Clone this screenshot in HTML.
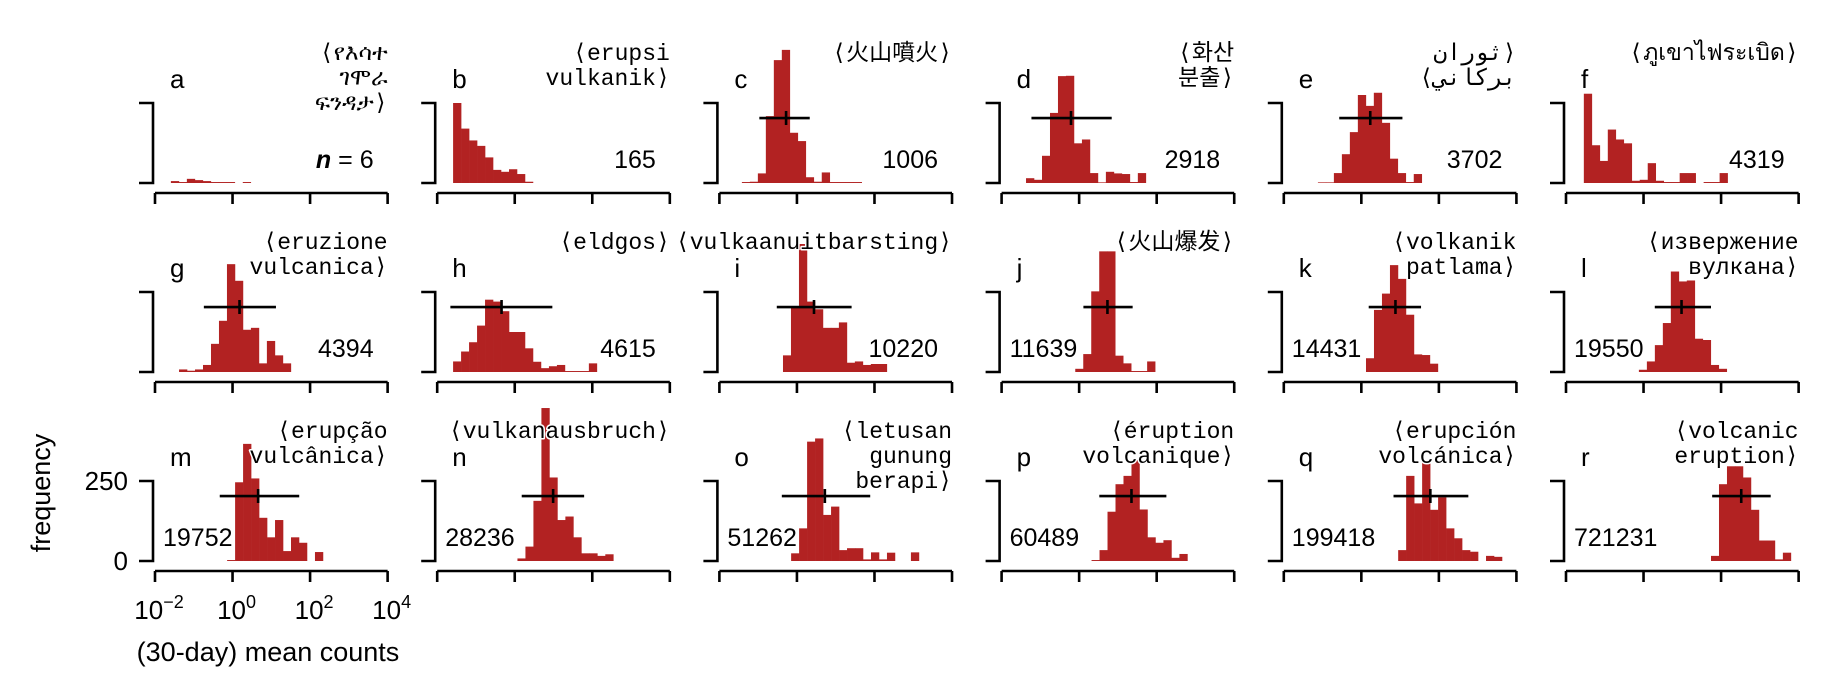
<!DOCTYPE html>
<html><head><meta charset="utf-8"><style>
html,body{margin:0;padding:0;background:#fff}
svg{display:block}
.mono{font-family:"Liberation Mono","DejaVu Sans Mono","Noto Sans CJK JP",monospace;font-size:23px;fill:#000}
.sans{font-family:"Liberation Sans","DejaVu Sans",sans-serif;fill:#000}
.halo{paint-order:stroke;stroke:#fff;stroke-width:3px;stroke-linejoin:round}
</style></head><body>
<svg id="chart" width="1829" height="698" viewBox="0 0 1829 698" xmlns="http://www.w3.org/2000/svg"></svg>
<script>
const letters=["a","b","c","d","e","f","g","h","i","j","k","l","m","n","o","p","q","r"];
const titles=[["⟨የእሳተ","ገሞራ","ፍንዳታ⟩"],["⟨erupsi","vulkanik⟩"],["⟨火山噴火⟩"],["⟨화산","분출⟩"],["⟨ثوران","بركاني⟩"],["⟨ภูเขาไฟระเบิด⟩"],
["⟨eruzione","vulcanica⟩"],["⟨eldgos⟩"],["⟨vulkaanuitbarsting⟩"],["⟨火山爆发⟩"],["⟨volkanik","patlama⟩"],["⟨извержение","вулкана⟩"],
["⟨erupção","vulcânica⟩"],["⟨vulkanausbruch⟩"],["⟨letusan","gunung","berapi⟩"],["⟨éruption","volcanique⟩"],["⟨erupción","volcánica⟩"],["⟨volcanic","eruption⟩"]];
const sampleSizes=["6","165","1006","2918","3702","4319","4394","4615","10220","11639","14431","19550","19752","28236","51262","60489","199418","721231"];
const binWidth=0.206;
const binStart=[-1.59,-1.59,-1.42,-1.37,-1.12,-1.54,-1.38,-1.59,-0.36,-0.10,0.12,-0.12,-0.14,0.07,-0.15,0.32,0.95,1.74];
const binCounts=[
[6,3,13,9,6,3,3,3,0,3],
[250,170,133,116,80,41,35,43,28,4],
[3,4,30,209,384,416,157,131,18,4,33,3,3,3,3],
[15,10,85,219,334,335,124,136,31,2,35,30,28,3,31],
[2,2,31,90,159,275,241,282,188,76,31,3,28],
[279,118,69,167,136,124,7,10,62,7,3,3,31,31,0,3,3,31],
[8,4,8,22,88,160,337,285,132,138,27,97,52,27],
[33,64,93,145,226,220,190,125,125,74,32,12,18,22,3,3,3,27],
[52,200,400,220,196,138,138,155,29,33,22,25,25],
[10,56,252,377,377,51,27,3,3,33],
[43,194,245,334,291,179,55,53,26],
[7,33,84,153,314,283,286,104,100,22,10],
[3,246,366,258,135,74,128,31,74,57,0,28],
[8,45,188,478,261,128,139,74,24,24,16,21],
[24,102,373,383,144,170,34,40,40,5,27,5,26,0,0,27],
[3,34,154,240,266,315,161,74,57,65,10,22],
[34,266,180,315,160,199,102,71,34,29,0,16,13],
[16,240,296,296,261,160,64,64,5,26]];
const errMean=[null,null,-0.28,-0.21,0.23,null,0.18,-0.34,0.44,0.73,0.88,0.98,0.66,0.99,0.72,1.35,1.78,2.52];
const errLo=[null,null,-0.97,-1.23,-0.57,null,-0.74,-1.66,-0.52,0.11,0.19,0.29,-0.33,0.18,-0.39,0.52,0.83,1.77];
const errHi=[null,null,0.33,0.84,1.06,null,1.12,0.97,1.41,1.38,1.54,1.74,1.72,1.79,1.89,2.25,2.76,3.28];
const xTicks=[-2,0,2,4];
const xTickLabels=["−2","0","2","4"];
const yTicks=[0,250];

const NS="http://www.w3.org/2000/svg";
const svg=document.getElementById("chart");
const X0=155,COLSTEP=282.2,DEC=38.77,BOT0=183,ROWSTEP=189,PPC=80/250;
function xs(col,v){return X0+col*COLSTEP+(v+2)*DEC;}
function ys(row,c){return BOT0+row*ROWSTEP-c*PPC;}
function mk(tag,attrs,parent){const e=document.createElementNS(NS,tag);for(const k in attrs)e.setAttribute(k,attrs[k]);(parent||svg).appendChild(e);return e;}

letters.forEach((L,i)=>{
  const col=i%6,row=Math.floor(i/6);
  const g=mk("g",{});
  
  
  const left=xs(col,-2),right=xs(col,4),bot=ys(row,0),top=ys(row,250);
  binCounts[i].forEach((c,j)=>{
    if(c<=0)return;
    const a=binStart[i]+j*binWidth;
    const r=mk("rect",{x:xs(col,a),y:ys(row,c),width:xs(col,a+binWidth)-xs(col,a)+0.3,height:bot-ys(row,c),fill:"#b22222"},g);
    
    
  });
  const sx=left-2;
  const ya=mk("path",{d:`M${sx-14},${top} H${sx} V${bot} H${sx-14}`,fill:"none",stroke:"#000","stroke-width":2.6},g);
  
  
  const ay=bot+10;
  let d=`M${left},${ay} H${right}`;
  xTicks.forEach(t=>{d+=` M${xs(col,t)},${ay} V${ay+11}`;});
  const xa=mk("path",{d:d,fill:"none",stroke:"#000","stroke-width":2.6},g);
  
  
  if(errMean[i]!==null){
    const ey=ys(row,203);
    const eb=mk("path",{d:`M${xs(col,errLo[i])},${ey} H${xs(col,errHi[i])} M${xs(col,errMean[i])},${ey-7} V${ey+7}`,stroke:"#000","stroke-width":2.6,fill:"none"},g);
    
    
  }
  const lt=mk("text",{x:left+15,y:88+row*ROWSTEP,class:"sans","font-size":26},g);
  lt.textContent=L;
  
  
  if(i===4){
    titles[i].forEach((ln,k)=>{
      const tt=mk("text",{x:right,y:60+row*ROWSTEP+k*25,class:"mono halo","font-size":25,"text-anchor":"start",direction:"rtl"},g);
      
      
      tt.textContent=ln;
    });
  } else {
    const tt=mk("text",{x:right,y:60+row*ROWSTEP,class:"mono halo","text-anchor":"end"},g);
    
    
    titles[i].forEach((ln,k)=>{const ts=mk("tspan",{x:right,dy:k===0?0:25},tt);ts.textContent=ln;});
  }
  const leftAlign=i>=9;
  const ct=mk("text",{x:leftAlign?left+8:right-14,y:bot-15,class:"sans halo","font-size":25,"text-anchor":leftAlign?"start":"end"},g);
  
  
  if(i===0){
    const n=mk("tspan",{"font-style":"italic","font-weight":"bold"},ct);n.textContent="n";
    const r=mk("tspan",{},ct);r.textContent=" = "+sampleSizes[i];
  } else ct.textContent=sampleSizes[i];
});

xTicks.forEach((t,k)=>{
  const tx=mk("text",{x:xs(0,t)+4,y:619,class:"sans","font-size":26,"text-anchor":"middle"});
  
  
  const a=mk("tspan",{},tx);a.textContent="10";
  const b=mk("tspan",{dy:-11,"font-size":18},tx);b.textContent=xTickLabels[k];
});
yTicks.forEach(v=>{
  const ty=mk("text",{x:128,y:ys(2,v)+9,class:"sans","font-size":26,"text-anchor":"end"});
  
  
  ty.textContent=String(v);
});
const yl=mk("text",{x:0,y:0,class:"sans","font-size":27,"text-anchor":"middle",transform:"translate(50,493) rotate(-90)"});


yl.textContent="frequency";
const xl=mk("text",{x:268,y:661,class:"sans","font-size":27,"text-anchor":"middle"});


xl.textContent="(30-day) mean counts";
</script>
</body></html>
